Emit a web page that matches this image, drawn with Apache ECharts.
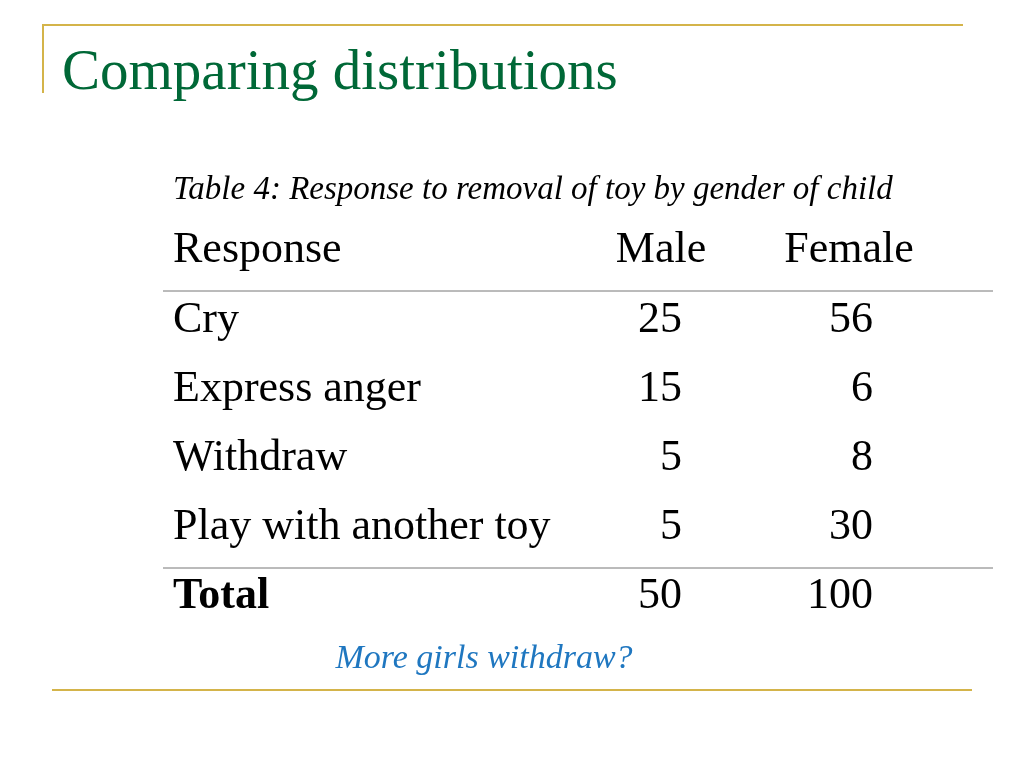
<!DOCTYPE html>
<html>
<head>
<meta charset="utf-8">
<script src="https://cdn.jsdelivr.net/npm/echarts@6/dist/echarts.min.js"></script>
<style>
  html, body { margin: 0; padding: 0; background: #fff; }
  #chart { width: 1024px; height: 768px; }
</style>
</head>
<body>
<div id="chart"></div>
<script>
let chart = echarts.init(document.getElementById('chart'));

// table data
var title = 'Comparing distributions';
var caption = 'Table 4: Response to removal of toy by gender of child';
var headers = ['Response', 'Male', 'Female'];
var responses = ['Cry', 'Express anger', 'Withdraw', 'Play with another toy'];
var male = [25, 15, 5, 5];
var female = [56, 6, 8, 30];
var totals = ['Total', 50, 100];
var note = 'More girls withdraw?';

var serif = '"Liberation Serif", "DejaVu Serif", serif';
var rowY = [320, 389, 458, 527];

function txt(x, y, s, size, opts) {
    opts = opts || {};
    return {
        type: 'text', x: x, y: y,
        style: {
            text: String(s),
            font: (opts.style || '') + ' ' + (opts.weight || 'normal') + ' ' + size + 'px ' + serif,
            fill: opts.color || '#000',
            textAlign: opts.align || 'left',
            textVerticalAlign: 'middle'
        }
    };
}

function line(x1, y1, x2, y2, color, w) {
    return { type: 'line', shape: { x1: x1, y1: y1, x2: x2, y2: y2 }, style: { stroke: color, lineWidth: w } };
}

var els = [];
// slide frame
els.push(line(42, 25, 963, 25, '#d4b44a', 2));
els.push(line(43, 25, 43, 93, '#d4b44a', 2));
els.push(line(52, 690, 972, 690, '#d4b44a', 2));
els.push(txt(62, 74, title, 57, { color: '#006837' }));

// table
els.push(txt(173, 190, caption, 33, { style: 'italic' }));
els.push(txt(173, 250, headers[0], 44));
els.push(txt(661, 250, headers[1], 44, { align: 'center' }));
els.push(txt(849, 250, headers[2], 44, { align: 'center' }));
els.push(line(163, 291, 993, 291, '#777', 1));

responses.forEach(function (r, i) {
    els.push(txt(173, rowY[i], r, 44));
    els.push(txt(682, rowY[i], male[i], 44, { align: 'right' }));
    els.push(txt(873, rowY[i], female[i], 44, { align: 'right' }));
});

els.push(line(163, 568, 993, 568, '#777', 1));
els.push(txt(173, 597, totals[0], 44, { weight: 'bold' }));
els.push(txt(682, 596, totals[1], 44, { align: 'right' }));
els.push(txt(873, 596, totals[2], 44, { align: 'right' }));

els.push(txt(484, 659, note, 34, { style: 'italic', align: 'center', color: '#1f77c0' }));

chart.setOption({
    animation: false,
    graphic: { elements: els }
});
</script>
</body>
</html>
